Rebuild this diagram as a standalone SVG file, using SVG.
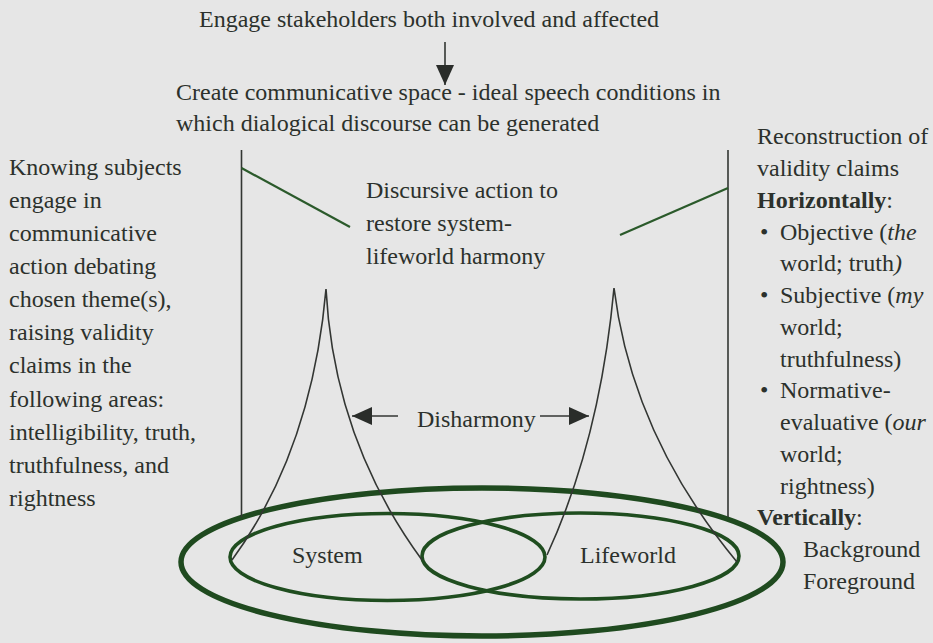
<svg xmlns="http://www.w3.org/2000/svg" width="933" height="643" viewBox="0 0 933 643">
<defs>
<style>
text{font-family:"Liberation Serif","Times New Roman",serif;font-size:24px;fill:#2c312c}
.b{font-weight:bold}
.i{font-style:italic}
.ln{fill:none;stroke:#333633;stroke-width:1.6}
.gd{fill:none;stroke:#2b5a2b;stroke-width:2.2}
.ell{fill:none;stroke:#1f4d1f;stroke-width:3.6}
.outer{fill:none;stroke:#1f4a1f;stroke-width:5.5}
</style>
<marker id="ah" viewBox="0 0 20 18" refX="20" refY="9" markerWidth="20" markerHeight="18" markerUnits="userSpaceOnUse" orient="auto">
<path d="M0,0 L20,9 L0,18 Z" fill="#2a2d2a"/>
</marker>
</defs>
<rect width="933" height="643" fill="#e6e6e6"/>

<g id="engage">
<text x="199" y="27">Engage stakeholders both involved and affected</text>
</g>

<g id="communicative-space">
<text x="176" y="100">Create communicative space - ideal speech conditions in</text>
<text x="176" y="131">which dialogical discourse can be generated</text>
</g>

<g id="knowing-subjects">
<text x="9" y="175">Knowing subjects</text>
<text x="9" y="208">engage in</text>
<text x="9" y="241">communicative</text>
<text x="9" y="274">action debating</text>
<text x="9" y="307">chosen theme(s),</text>
<text x="9" y="340">raising validity</text>
<text x="9" y="373">claims in the</text>
<text x="9" y="407">following areas:</text>
<text x="9" y="440">intelligibility, truth,</text>
<text x="9" y="473">truthfulness, and</text>
<text x="9" y="506">rightness</text>
</g>

<g id="discursive-action">
<text x="366" y="198">Discursive action to</text>
<text x="366" y="231">restore system-</text>
<text x="366" y="264">lifeworld harmony</text>
</g>

<g id="validity-claims">
<text x="757" y="144">Reconstruction of</text>
<text x="757" y="176">validity claims</text>
<text x="757" y="208"><tspan class="b">Horizontally</tspan>:</text>
<text x="760" y="240">•</text>
<text x="780" y="240">Objective (<tspan class="i">the</tspan></text>
<text x="780" y="271">world; truth<tspan class="i">)</tspan></text>
<text x="760" y="303">•</text>
<text x="780" y="303">Subjective (<tspan class="i">my</tspan></text>
<text x="780" y="335">world;</text>
<text x="780" y="367">truthfulness)</text>
<text x="760" y="398">•</text>
<text x="780" y="398">Normative-</text>
<text x="780" y="430">evaluative (<tspan class="i">our</tspan></text>
<text x="780" y="462">world;</text>
<text x="780" y="494">rightness)</text>
<text x="757" y="525"><tspan class="b">Vertically</tspan>:</text>
<text x="803" y="557">Background</text>
<text x="803" y="589">Foreground</text>
</g>

<g id="disharmony">
<text x="417" y="427">Disharmony</text>
</g>

<g id="outer-ellipse">
<ellipse class="outer" cx="482" cy="562" rx="301" ry="74"/>
</g>

<g id="system">
<ellipse class="ell" cx="387.5" cy="557" rx="157.5" ry="43.5"/>
<text x="292" y="563">System</text>
</g>

<g id="lifeworld">
<ellipse class="ell" cx="580.5" cy="556" rx="158.5" ry="43"/>
<text x="580" y="563">Lifeworld</text>
</g>

<g id="connectors">
<line class="ln" x1="445" y1="42" x2="445" y2="85" marker-end="url(#ah)"/>
<line class="ln" x1="241.5" y1="150" x2="241.5" y2="517"/>
<line class="ln" x1="728" y1="150" x2="728" y2="517"/>
<line class="gd" x1="241.5" y1="168" x2="350" y2="227"/>
<line class="gd" x1="728" y1="188" x2="620" y2="235"/>
<path class="ln" d="M232,560 Q312,450 326,289 Q334,440 422,560"/>
<path class="ln" d="M547,555 Q600,440 614,288 Q632,435 737,562"/>
<line class="ln" x1="398" y1="416" x2="352" y2="416" marker-end="url(#ah)"/>
<line class="ln" x1="540" y1="416" x2="589" y2="416" marker-end="url(#ah)"/>
</g>
</svg>
